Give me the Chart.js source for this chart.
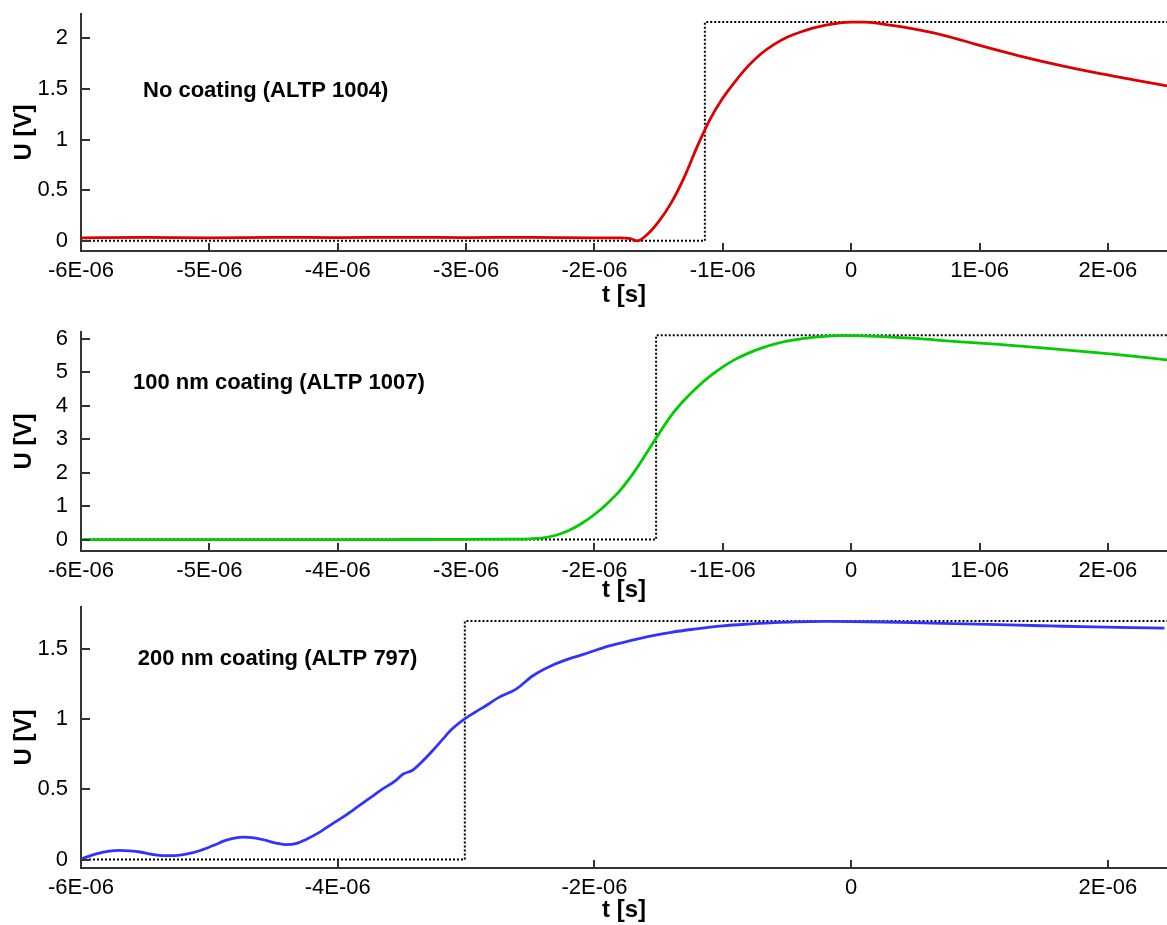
<!DOCTYPE html>
<html>
<head>
<meta charset="utf-8">
<script src="https://cdn.jsdelivr.net/npm/chart.js@4/dist/chart.umd.min.js"></script>
<style>
  html, body { margin: 0; padding: 0; background: #fff; }
  body { width: 1167px; height: 925px; position: relative; overflow: hidden; }
  canvas { position: absolute; left: 0; }
</style>
</head>
<body>
<canvas id="c1" width="1167" height="308" style="top:0px"></canvas>
<canvas id="c2" width="1167" height="302" style="top:303px"></canvas>
<canvas id="c3" width="1167" height="320" style="top:605px"></canvas>
<script>
// ---------- DATA ----------
// Times in microseconds (multiplied by 1e-6 when plotted), voltages in V.
// Panel 1: No coating (ALTP 1004)
const t1 = [-6.0, -5.5, -5.0, -4.5, -4.0, -3.5, -3.0, -2.5, -2.0, -1.8, -1.72, -1.665, -1.6, -1.5, -1.4, -1.3, -1.2, -1.1, -1.0, -0.9, -0.8, -0.7, -0.6, -0.5, -0.4, -0.3, -0.2, -0.1, 0.0, 0.1, 0.2, 0.3, 0.41, 0.72, 1.0, 1.3, 1.6, 1.9, 2.2, 2.46];
const u1 = [0.03, 0.035, 0.03, 0.035, 0.033, 0.035, 0.033, 0.035, 0.03, 0.03, 0.022, 0.0, 0.05, 0.19, 0.38, 0.63, 0.93, 1.2, 1.41, 1.58, 1.73, 1.85, 1.94, 2.01, 2.06, 2.10, 2.13, 2.15, 2.16, 2.16, 2.15, 2.13, 2.11, 2.03, 1.93, 1.83, 1.74, 1.66, 1.59, 1.53];
const stepT1 = [-6.0, -1.14, -1.14, 2.46];
const stepU1 = [0, 0, 2.16, 2.16];

// Panel 2: 100 nm coating (ALTP 1007)
const t2 = [-6.0, -5.0, -4.0, -3.5, -3.0, -2.7, -2.5, -2.4, -2.3, -2.2, -2.1, -2.0, -1.9, -1.8, -1.7, -1.6, -1.5, -1.4, -1.3, -1.2, -1.1, -1.0, -0.9, -0.8, -0.7, -0.6, -0.5, -0.4, -0.3, -0.2, -0.1, 0.0, 0.2, 0.5, 0.8, 1.15, 1.51, 2.04, 2.46];
const u2 = [0.0, 0.0, 0.0, 0.003, 0.008, 0.015, 0.025, 0.05, 0.13, 0.27, 0.48, 0.75, 1.08, 1.47, 1.97, 2.55, 3.15, 3.72, 4.17, 4.55, 4.88, 5.16, 5.39, 5.57, 5.72, 5.84, 5.93, 5.99, 6.04, 6.07, 6.09, 6.09, 6.07, 6.01, 5.92, 5.83, 5.72, 5.54, 5.37];
const stepT2 = [-6.0, -1.52, -1.52, 2.46];
const stepU2 = [0, 0, 6.1, 6.1];

// Panel 3: 200 nm coating (ALTP 797)
const t3 = [-6.0, -5.88, -5.78, -5.70, -5.62, -5.54, -5.45, -5.36, -5.27, -5.18, -5.07, -4.97, -4.86, -4.74, -4.65, -4.56, -4.48, -4.40, -4.32, -4.25, -4.15, -4.04, -3.93, -3.83, -3.74, -3.65, -3.56, -3.49, -3.42, -3.34, -3.26, -3.18, -3.11, -3.0, -2.93, -2.84, -2.745, -2.61, -2.48, -2.315, -2.2, -2.08, -1.885, -1.72, -1.554, -1.4, -1.223, -1.0, -0.826, -0.6, -0.43, -0.2, 0, 0.25, 0.56, 0.9, 1.225, 1.55, 1.887, 2.2, 2.44];
const u3 = [0.005, 0.04, 0.06, 0.066, 0.062, 0.054, 0.038, 0.028, 0.028, 0.038, 0.065, 0.10, 0.14, 0.16, 0.155, 0.137, 0.118, 0.106, 0.115, 0.142, 0.19, 0.256, 0.32, 0.386, 0.445, 0.504, 0.555, 0.61, 0.635, 0.70, 0.777, 0.86, 0.93, 1.01, 1.05, 1.10, 1.156, 1.215, 1.31, 1.39, 1.43, 1.464, 1.523, 1.56, 1.594, 1.62, 1.642, 1.665, 1.677, 1.688, 1.694, 1.697, 1.696, 1.693, 1.687, 1.68, 1.672, 1.665, 1.658, 1.653, 1.649];
const stepT3 = [-6.0, -3.01, -3.01, 2.46];
const stepU3 = [0, 0, 1.70, 1.70];

// Tick values & labels
const xTicksA = [-6e-6, -5e-6, -4e-6, -3e-6, -2e-6, -1e-6, 0, 1e-6, 2e-6];
const xLabelsA = ['-6E-06', '-5E-06', '-4E-06', '-3E-06', '-2E-06', '-1E-06', '0', '1E-06', '2E-06'];
const xTicksB = [-6e-6, -4e-6, -2e-6, 0, 2e-6];
const xLabelsB = ['-6E-06', '-4E-06', '-2E-06', '0', '2E-06'];
const yTicks1 = [0, 0.5, 1, 1.5, 2];
const yLabels1 = ['0', '0.5', '1', '1.5', '2'];
const yTicks2 = [0, 1, 2, 3, 4, 5, 6];
const yLabels2 = ['0', '1', '2', '3', '4', '5', '6'];
const yTicks3 = [0, 0.5, 1, 1.5];
const yLabels3 = ['0', '0.5', '1', '1.5'];

const labels = ['No coating (ALTP 1004)', '100 nm coating (ALTP 1007)', '200 nm coating (ALTP 797)'];
const colors = ['#dd0000', '#00cc00', '#3333ff'];

// ---------- RENDERING ----------
const FONT = "Arial, 'Liberation Sans', sans-serif";
const AXIS_COLOR = '#333333';
const US = 1e-6;

function pts(ts, us) { return ts.map((t, i) => ({ x: t * US, y: us[i] })); }

const inwardTicks = {
  id: 'inwardTicks',
  afterDraw(chart) {
    const ctx = chart.ctx, xs = chart.scales.x, ys = chart.scales.y, a = chart.chartArea;
    ctx.save();
    ctx.strokeStyle = AXIS_COLOR;
    ctx.lineWidth = 2;
    ctx.beginPath();
    xs.ticks.forEach(tk => {
      const px = Math.round(xs.getPixelForValue(tk.value));
      ctx.moveTo(px, a.bottom); ctx.lineTo(px, a.bottom - 8);
    });
    ys.ticks.forEach(tk => {
      const py = Math.round(ys.getPixelForValue(tk.value));
      ctx.moveTo(a.left, py); ctx.lineTo(a.left + 9, py);
    });
    ctx.stroke();
    ctx.restore();
  }
};

const annotation = {
  id: 'annotation',
  afterDatasetsDraw(chart, args, opts) {
    const ctx = chart.ctx;
    ctx.save();
    ctx.font = 'bold 22px ' + FONT;
    ctx.fillStyle = '#000';
    ctx.textAlign = 'left';
    ctx.textBaseline = 'middle';
    ctx.fillText(opts.text, chart.scales.x.getPixelForValue(opts.x), chart.scales.y.getPixelForValue(opts.y));
    ctx.restore();
  }
};

function noPad(s) { s.paddingTop = 0; s.paddingBottom = 0; s.paddingLeft = 0; s.paddingRight = 0; }

function makePanel(id, cfg) {
  new Chart(document.getElementById(id), {
    type: 'line',
    data: {
      datasets: [
        { data: pts(cfg.stepT, cfg.stepU), borderColor: '#000', borderWidth: 2, borderDash: [2, 2],
          pointRadius: 0, tension: 0, fill: false, order: 2 },
        { data: pts(cfg.t, cfg.u), borderColor: cfg.color, borderWidth: 2.8, pointRadius: 0,
          cubicInterpolationMode: 'monotone', fill: false, order: 1 }
      ]
    },
    plugins: [inwardTicks, annotation],
    options: {
      responsive: false,
      animation: false,
      events: [],
      layout: { autoPadding: false, padding: { top: cfg.top, right: 0, bottom: 0, left: 0 } },
      plugins: {
        legend: { display: false },
        tooltip: { enabled: false },
        annotation: { text: cfg.label, x: cfg.annX * US, y: cfg.annY }
      },
      scales: {
        x: {
          type: 'linear',
          min: -6e-6, max: 2.46e-6,
          afterBuildTicks: s => { s.ticks = cfg.xTicks.map(v => ({ value: v })); },
          afterFit: s => { s.height = cfg.xh; noPad(s); },
          grid: { display: false, drawTicks: false },
          border: { display: true, color: AXIS_COLOR, width: 2 },
          ticks: {
            autoSkip: false, maxRotation: 0, padding: 9, color: '#000',
            font: { family: FONT, size: 22, lineHeight: 1.0 },
            callback: (v, i) => cfg.xLabels[i]
          },
          title: {
            display: true, text: 't [s]', color: '#000',
            font: { family: FONT, size: 24, weight: 'bold', lineHeight: 0.5 },
            padding: { top: 0, bottom: cfg.xtPad }
          }
        },
        y: {
          min: cfg.ymin, max: cfg.ymax,
          afterBuildTicks: s => { s.ticks = cfg.yTicks.map(v => ({ value: v })); },
          afterFit: s => { s.width = 81; noPad(s); },
          grid: { display: false, drawTicks: false },
          border: { display: true, color: AXIS_COLOR, width: 2 },
          ticks: {
            padding: 13, color: '#000',
            font: { family: FONT, size: 22, lineHeight: 1.0 },
            callback: (v, i) => cfg.yLabels[i]
          },
          title: {
            display: true, text: 'U [V]', color: '#000',
            font: { family: FONT, size: 24, weight: 'bold', lineHeight: 0.5 },
            padding: { top: 18, bottom: 0 }
          }
        }
      }
    }
  });
}

makePanel('c1', { t: t1, u: u1, stepT: stepT1, stepU: stepU1, color: colors[0], label: labels[0],
  xTicks: xTicksA, xLabels: xLabelsA, yTicks: yTicks1, yLabels: yLabels1,
  ymin: -0.1, ymax: 2.24, top: 14, xh: 57, xtPad: 7, annX: -5.517, annY: 1.48 });
makePanel('c2', { t: t2, u: u2, stepT: stepT2, stepU: stepU2, color: colors[1], label: labels[1],
  xTicks: xTicksA, xLabels: xLabelsA, yTicks: yTicks2, yLabels: yLabels2,
  ymin: -0.34, ymax: 6.2, top: 29, xh: 54, xtPad: 9, annX: -5.595, annY: 4.68 });
makePanel('c3', { t: t3, u: u3, stepT: stepT3, stepU: stepU3, color: colors[2], label: labels[2],
  xTicks: xTicksB, xLabels: xLabelsB, yTicks: yTicks3, yLabels: yLabels3,
  ymin: -0.06, ymax: 1.80, top: 2, xh: 57, xtPad: 9, annX: -5.557, annY: 1.43 });
</script>
</body>
</html>
